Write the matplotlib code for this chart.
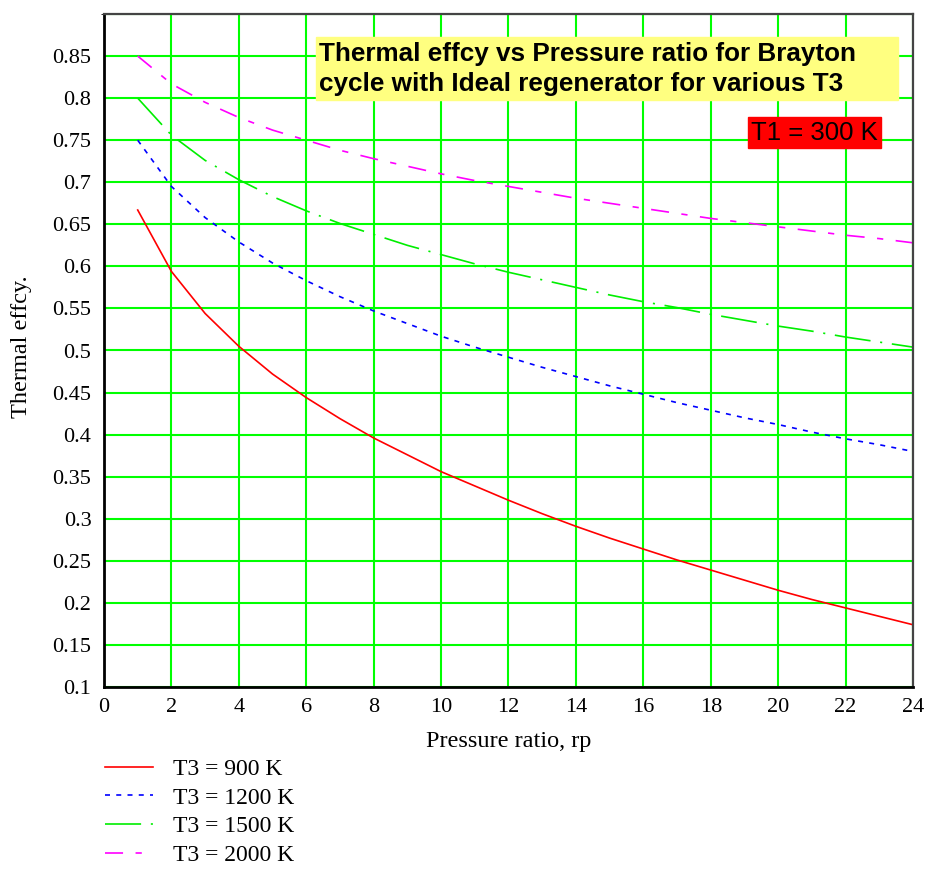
import matplotlib
matplotlib.use('Agg')
import matplotlib.pyplot as plt
from matplotlib.patches import Rectangle

# pressure ratio and thermal efficiency
rp = [1, 2, 3, 4, 5, 6, 7, 8, 9, 10, 11, 12, 13, 14, 15, 16, 17, 18, 19, 20, 21, 22, 23, 24]
eff_900 = [0.667, 0.594, 0.544, 0.505, 0.472, 0.444, 0.419, 0.396, 0.376, 0.356, 0.339, 0.322,
           0.306, 0.291, 0.277, 0.264, 0.251, 0.239, 0.227, 0.215, 0.204, 0.194, 0.184, 0.174]
eff_1200 = [0.750, 0.695, 0.658, 0.629, 0.604, 0.583, 0.564, 0.547, 0.532, 0.517, 0.504, 0.492,
            0.480, 0.469, 0.458, 0.448, 0.438, 0.429, 0.420, 0.412, 0.403, 0.395, 0.388, 0.380]
eff_1500 = [0.800, 0.756, 0.726, 0.703, 0.683, 0.666, 0.651, 0.638, 0.625, 0.614, 0.603, 0.593,
            0.584, 0.575, 0.566, 0.558, 0.551, 0.543, 0.536, 0.529, 0.523, 0.516, 0.510, 0.504]
eff_2000 = [0.850, 0.817, 0.795, 0.777, 0.762, 0.750, 0.738, 0.728, 0.719, 0.710, 0.702, 0.695,
            0.688, 0.681, 0.675, 0.669, 0.663, 0.657, 0.652, 0.647, 0.642, 0.637, 0.633, 0.628]
labels = ['T3 = 900 K', 'T3 = 1200 K', 'T3 = 1500 K', 'T3 = 2000 K']

xticks = list(range(0, 25, 2))
yticks = [0.1, 0.15, 0.2, 0.25, 0.3, 0.35, 0.4, 0.45, 0.5, 0.55, 0.6, 0.65, 0.7, 0.75, 0.8, 0.85]
ytick_labels = ['0.1', '0.15', '0.2', '0.25', '0.3', '0.35', '0.4', '0.45', '0.5', '0.55',
                '0.6', '0.65', '0.7', '0.75', '0.8', '0.85']

plt.rcParams['lines.scale_dashes'] = False
serif = ['Liberation Serif', 'DejaVu Serif']

W, H = 928, 871
fig = plt.figure(figsize=(W / 100, H / 100), dpi=100)
ax = fig.add_axes([104 / W, 1 - 687 / H, (913 - 104) / W, (687 - 14) / H])

ax.plot(rp, eff_900, color='red', lw=1.2, label=labels[0])
ax.plot(rp, eff_1200, color='blue', lw=1.2, dashes=(3.6, 4.5), label=labels[1])
ax.plot(rp, eff_1500, color='#00ee00', lw=1.2, dashes=(26, 7, 1.5, 7), label=labels[2])
ax.plot(rp, eff_2000, color='magenta', lw=1.2, dashes=(13, 9, 4.5, 9), label=labels[3])

ax.set_xlim(0, 24)
ax.set_ylim(0.1, 0.9)
ax.set_xticks(xticks)
ax.set_yticks(yticks)
ax.set_yticklabels(ytick_labels)
ax.set_yticks([0.9], minor=True)
ax.grid(True, which='both', color='#00ff00', lw=1.5)
ax.set_axisbelow(True)
ax.tick_params(length=0, labelsize=16)
ax.tick_params(axis='y', pad=9)
ax.tick_params(axis='x', pad=8)
for lab in ax.get_xticklabels() + ax.get_yticklabels():
    lab.set_family(serif)

for s in ['left', 'bottom']:
    ax.spines[s].set_linewidth(2)
    ax.spines[s].set_color('black')
for s in ['top', 'right']:
    ax.spines[s].set_linewidth(1.6)
    ax.spines[s].set_color('#444444')

fig.text(509 / W, 1 - 741 / H, 'Pressure ratio, rp', ha='center', va='center',
         fontsize=17.5, family=serif)
fig.text(22 / W, 1 - 347 / H, 'Thermal effcy.', ha='center', va='center',
         rotation=90, fontsize=17.5, family=serif)

# title box and T1 box
fig.patches.append(Rectangle((316 / W, 1 - 100 / H), 582 / W, 63 / H,
                             transform=fig.transFigure, color='#ffff80', zorder=1))
fig.text(319 / W, 1 - 69 / H,
         'Thermal effcy vs Pressure ratio for Brayton\ncycle with Ideal regenerator for various T3',
         ha='left', va='center', fontsize=18.8, fontweight='bold',
         family=['Liberation Sans', 'DejaVu Sans'], linespacing=1.32, zorder=2)
fig.patches.append(Rectangle((748 / W, 1 - 148 / H), 133 / W, 31 / H,
                             transform=fig.transFigure, color='#ff0000', zorder=1))
fig.text(751 / W, 1 - 133 / H, 'T1 = 300 K', ha='left', va='center', fontsize=18.5,
         family=['Liberation Sans', 'DejaVu Sans'], zorder=2)

leg = fig.legend(loc='upper left', bbox_to_anchor=(96 / W, 1 - 749 / H), frameon=False,
                 prop={'family': serif, 'size': 17}, handlelength=2.0,
                 handletextpad=0.85, labelspacing=0.3, borderaxespad=0)

fig.savefig('out.png', dpi=100)
